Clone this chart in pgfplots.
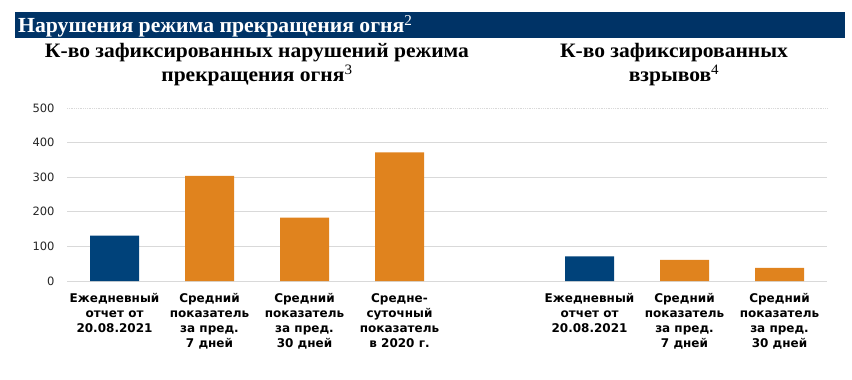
\documentclass[border=0pt]{standalone}
\usepackage{pgfplots}
\pgfplotsset{compat=1.18}
\usepackage{fontspec}
\setmainfont{Liberation Serif}
\newfontfamily\titlefont[FakeStretch=1.01]{Liberation Serif}
\newfontfamily\subfont[FakeStretch=1.05]{Liberation Serif}
\newfontfamily\dejavu{DejaVu Sans}
\definecolor{navy}{HTML}{003366}
\definecolor{barblue}{HTML}{00427A}
\definecolor{barorange}{HTML}{E0831E}
\definecolor{ticktext}{HTML}{262626}
\definecolor{gridc}{HTML}{D9D9D9}
\begin{document}
\begin{tikzpicture}[x=1bp,y=1bp]
\useasboundingbox (0,0) rectangle (852,379);
\fill[navy] (15,340.7) rectangle (845,366.7);
\node[anchor=base west, inner sep=0pt, text=white, font=\titlefont\fontsize{21.5bp}{23bp}\selectfont\bfseries] at (18,346.3) {Нарушения режима прекращения огня\textsuperscript{\mdseries 2}};
\node[anchor=base, inner sep=0pt, align=center, font=\subfont\fontsize{20.5bp}{24bp}\selectfont\bfseries] at (257,297.5) {К-во зафиксированных нарушений режима\\прекращения огня\textsuperscript{\mdseries 3}};
\node[anchor=base, inner sep=0pt, align=center, font=\subfont\fontsize{20.5bp}{24bp}\selectfont\bfseries] at (674,297.5) {К-во зафиксированных\\взрывов\textsuperscript{\mdseries 4}};
\begin{axis}[
  at={(67bp,98bp)}, anchor=south west,
  scale only axis, width=760bp, height=173bp,
  xmin=-0.5, xmax=7.5, ymin=0, ymax=500,
  axis line style={draw=none},
  tick style={draw=none},
  ytick={0,100,200,300,400},
  extra y ticks={500},
  extra y tick style={grid style={gridc, densely dotted}},
  ymajorgrids, grid style={gridc, line width=0.8bp},
  xtick={0,1,2,3,5,6,7},
  xticklabels={{Ежедневный\\отчет от\\20.08.2021},{Средний\\показатель\\за пред.\\7 дней},{Средний\\показатель\\за пред.\\30 дней},{Средне-\\суточный\\показатель\\в 2020 г.},{Ежедневный\\отчет от\\20.08.2021},{Средний\\показатель\\за пред.\\7 дней},{Средний\\показатель\\за пред.\\30 дней}},
  xticklabel style={align=center, font=\dejavu\bfseries\fontsize{12bp}{15bp}\selectfont, text=black, anchor=north, yshift=-5bp},
  yticklabel style={font=\dejavu\fontsize{11.5bp}{13bp}\selectfont, text=ticktext, xshift=-9bp},
  /pgf/number format/assume math mode=true,
  ybar, bar width=49bp, bar shift=0pt,
]
\addplot[fill=barblue, draw=none] coordinates {(0,131) (5,71)};
\addplot[fill=barorange, draw=none] coordinates {(1,304) (2,183) (3,372) (6,61) (7,38)};
\end{axis}
\end{tikzpicture}
\end{document}
